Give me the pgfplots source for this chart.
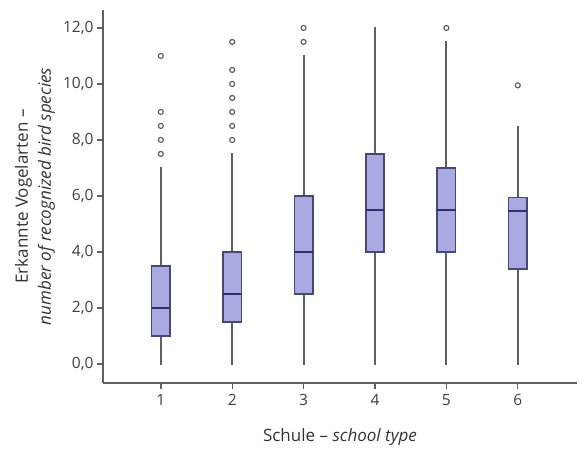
\documentclass[border=0pt]{standalone}
\usepackage{pgfplots}
\pgfplotsset{compat=1.18}
\usepgfplotslibrary{statistics}
\usepackage{fontspec}
\setmainfont{Open Sans}
\definecolor{boxfill}{RGB}{170,170,226}
\definecolor{boxdraw}{RGB}{72,72,112}
\definecolor{medcol}{RGB}{48,48,118}
\definecolor{whisk}{RGB}{95,95,100}
\definecolor{axcol}{RGB}{95,95,95}
\begin{document}
\begin{tikzpicture}
\path[use as bounding box] (0,0) rectangle (586pt,448pt);
\begin{axis}[
  at={(103pt,65pt)}, anchor=south west,
  scale only axis, width=474pt, height=373pt,
  xmin=0.19, xmax=6.83, ymin=-0.68, ymax=12.64,
  axis x line*=bottom, axis y line*=left,
  axis line style={-, draw=axcol, line width=1.5pt},
  tick style={draw=axcol, line width=1.4pt},
  major tick length=6pt, tick align=outside,
  xtick={1,2,3,4,5,6},
  ytick={0,2,4,6,8,10,12},
  /pgf/number format/assume math mode=true,
  yticklabel style={/pgf/number format/.cd, fixed, fixed zerofill, precision=1, use comma, assume math mode=true},
  tick label style={font=\fontsize{15.5}{17}\selectfont, text=black!75},
  xticklabel style={yshift=-2pt},
  every axis x label/.style={at={(axis description cs:0.5,0)}, yshift=-54pt, anchor=center, font=\fontsize{17}{23}\selectfont, text=black!80},
  every axis y label/.style={at={(axis description cs:0,0.5)}, xshift=-68pt, rotate=90, anchor=center, align=center, font=\fontsize{17}{23}\selectfont, text=black!80},
  xlabel={Schule -- \textit{school type}},
  ylabel={Erkannte Vogelarten --\\\textit{number of recognized bird species}},
  boxplot/draw direction=y,
  boxplot/every box/.style={draw=boxdraw, fill=boxfill, line width=1.6pt},
  boxplot/every whisker/.style={draw=whisk, line width=2pt},
  boxplot/every median/.style={draw=medcol, line width=1.8pt},
  clip=false,
]
\pgfplotsset{bx/.style={boxplot/box extend=0.26, boxplot/whisker extend=0.03,
  mark=o, mark size=2.5pt, mark options={draw=whisk, line width=1.2pt, fill=none}}}
\addplot[bx, boxplot prepared={draw position=1, lower whisker=0, lower quartile=1.0, median=2.0, upper quartile=3.5, upper whisker=7.0}]
  coordinates {(0,7.5) (0,8.0) (0,8.5) (0,9.0) (0,11.0)};
\addplot[bx, boxplot prepared={draw position=2, lower whisker=0, lower quartile=1.5, median=2.5, upper quartile=4.0, upper whisker=7.5}]
  coordinates {(0,8.0) (0,8.5) (0,9.0) (0,9.5) (0,10.0) (0,10.5) (0,11.5)};
\addplot[bx, boxplot prepared={draw position=3, lower whisker=0, lower quartile=2.5, median=4.0, upper quartile=6.0, upper whisker=11.0}]
  coordinates {(0,11.5) (0,12.0)};
\addplot[bx, boxplot prepared={draw position=4, lower whisker=0, lower quartile=4.0, median=5.5, upper quartile=7.5, upper whisker=12.0}]
  coordinates {};
\addplot[bx, boxplot prepared={draw position=5, lower whisker=0, lower quartile=4.0, median=5.5, upper quartile=7.0, upper whisker=11.5}]
  coordinates {(0,12.0)};
\addplot[bx, boxplot prepared={draw position=6, lower whisker=0, lower quartile=3.4, median=5.45, upper quartile=5.95, upper whisker=8.45}]
  coordinates {(0,9.95)};
\end{axis}
\end{tikzpicture}
\end{document}
